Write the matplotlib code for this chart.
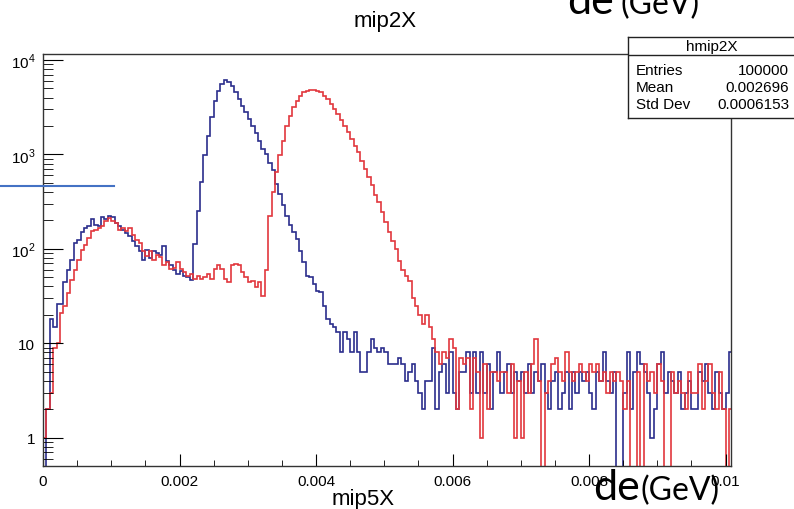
import numpy as np
import matplotlib
matplotlib.use("Agg")
import matplotlib.pyplot as plt
from matplotlib.lines import Line2D

plt.rcParams['font.family'] = ['Liberation Sans', 'DejaVu Sans']
plt.rcParams['mathtext.fontset'] = 'custom'
plt.rcParams['mathtext.rm'] = 'Liberation Sans'

# histogram contents, bin width 0.00005 starting at 0
bin_width = 0.00005

blue = ([0, 2, 18, 15, 26, 26, 44, 60, 77, 116, 125, 150, 165, 175, 205, 180, 175, 220,
         205, 225, 215, 190, 175, 160, 148, 136, 120, 106, 95, 77, 98, 80, 95, 90, 85]
        + [108, 75, 68, 60, 54, 58, 52, 50, 47, 113]
        + [253, 510, 980, 1580, 2500, 3700, 4700, 5550, 6100, 5800, 5300, 4600, 3900,
           3300, 2800, 2400, 2000, 1700, 1400, 1150, 1000, 820]
        + [690, 490, 380, 290, 225, 177, 150, 128, 96, 72, 52, 50, 42, 36, 35, 25]
        + [18, 16, 15, 13, 8, 13, 11, 8, 13, 8, 5, 5, 8, 11, 9, 8, 9, 8, 6, 6, 6, 7]
        + [6, 4, 5, 6, 4, 3, 2, 4, 4, 9, 2, 5, 6, 3, 8, 3, 2, 5, 5, 8,
           3, 8, 3, 8, 3, 6, 2, 5, 8, 3, 5, 6, 3, 5, 4, 5, 3, 6, 3, 5,
           4, 6, 3, 2, 4, 5, 2, 3, 5, 2, 5, 3, 5, 4, 5, 3, 2, 5, 4, 8,
           4, 3, 5, 0, 0, 3, 8, 2, 5, 8, 6, 5, 3, 1, 2, 6, 8, 3, 5, 4,
           3, 5, 2, 3, 4, 2, 2, 5, 4, 6, 3, 2, 5, 3, 2, 3, 8])

red = ([1, 2, 3, 9, 10, 21, 25, 34, 47, 60, 77, 98, 110, 130, 153, 160, 167, 174, 195,
        212, 195, 188, 160, 167, 153, 167, 141, 125, 115, 95, 83, 95, 77, 85, 81]
       + [67, 72, 61, 63, 72, 61, 57, 52, 54, 48, 52, 48, 50, 54, 48, 61, 67, 61, 48, 44,
          67, 69, 67, 57, 50, 44, 46, 39, 44, 32, 59]
       + [225, 400, 650, 980, 1400, 2000, 2560, 3170, 3700, 4200, 4550, 4720, 4850, 4850,
          4720, 4550, 4200, 3900, 3400, 3000, 2680, 2300, 2000, 1720, 1460, 1240, 1050,
          860, 700, 570, 470, 370, 310, 245, 192, 150, 122, 100, 75]
       + [59, 52, 46, 30, 25, 20, 16, 20, 15, 11, 8, 6, 8, 7, 11, 9]
       + [2, 7, 6, 7, 2, 7, 5, 1, 6, 2, 5, 5, 4, 5, 5, 3, 6, 1, 4, 1,
          5, 3, 6, 11, 4, 0, 3, 4, 6, 7, 5, 4, 8, 5, 4, 5, 6, 5, 4, 6,
          5, 6, 4, 5, 3, 5, 4, 5, 4, 2, 4, 0, 0, 5, 0, 6, 4, 5, 3, 6,
          4, 0, 0, 5, 3, 4, 3, 2, 5, 3, 3, 6, 2, 4, 6, 3, 2, 5, 2, 0, 2])

x_ticks = [0, 0.002, 0.004, 0.006, 0.008, 0.01]
x_labels = ['0', '0.002', '0.004', '0.006', '0.008', '0.01']
y_ticks = [1, 10, 100, 1000, 10000]
y_labels = ['1', '10', r'$10^{2}$', r'$10^{3}$', r'$10^{4}$']

stats_name = 'hmip2X'
stats_rows = [('Entries', '100000'), ('Mean', '0.002696'), ('Std Dev', '0.0006153')]

W, H = 794, 510
fig = plt.figure(figsize=(W / 100, H / 100), dpi=100)
ax = fig.add_axes([43 / W, 1 - 467 / H, (731 - 43) / W, (467 - 55) / H])

floor = 1e-2  # empty bins drop to the bottom, like ROOT
for vals, col in [(blue, '#2b2e8c'), (red, '#e2373d')]:
    v = np.array(vals, dtype=float)
    v[v <= 0] = floor
    edges = np.arange(len(v) + 1) * bin_width
    ax.stairs(v, edges, baseline=floor, color=col, lw=1.2)

ax.set_yscale('log')
ax.set_xlim(0, 0.01008)
ax.set_ylim(0.5, 11600)

ax.set_xticks(x_ticks)
ax.set_xticklabels(x_labels)
ax.set_xticks(np.arange(0, 0.0101, 0.0005), minor=True)
ax.set_yticks(y_ticks)
ax.set_yticklabels(y_labels)
ax.tick_params(axis='both', which='both', direction='in', labelsize=11,
               top=False, right=False, color='black')
ax.tick_params(axis='y', which='major', length=14.4, pad=5.5)
ax.tick_params(axis='y', which='minor', length=7.2)
ax.tick_params(axis='x', which='major', length=8.6, pad=5.5)
ax.tick_params(axis='x', which='minor', length=4.3)
ax.yaxis.set_minor_formatter(matplotlib.ticker.NullFormatter())
for s in ax.spines.values():
    s.set_linewidth(1)
    s.set_color('#333333')

fig.text(385 / W, 1 - 27 / H, 'mip2X', fontsize=16, ha='center', va='baseline')
fig.text(395 / W, 1 - 505 / H, 'mip5X', fontsize=16, ha='right', va='baseline')

# stats box
sax = fig.add_axes([628 / W, 1 - 119 / H, (800 - 628) / W, (119 - 38) / H])
sax.set_xlim(628, 800)
sax.set_ylim(119, 38)
sax.set_xticks([])
sax.set_yticks([])
sax.set_facecolor('white')
for s in sax.spines.values():
    s.set_linewidth(1)
    s.set_color('#222222')
sax.plot([628, 800], [56, 56], color='#222222', lw=1)
sax.text(712, 47, stats_name, fontsize=11, ha='center', va='center')
for i, (k, val) in enumerate(stats_rows):
    yy = 71 + i * 17
    sax.text(636, yy, k, fontsize=11, ha='left', va='center')
    sax.text(789, yy, val, fontsize=11, ha='right', va='center')

# annotations on top of the picture
fig.add_artist(Line2D([0, 114 / W], [1 - 187 / H] * 2, color='#4472c4', lw=1.5))
fig.text(567 / W, 1 - 14 / H, 'de', fontsize=31, family='Lato', va='baseline')
fig.text(620 / W, 1 - 14 / H, '(GeV)', fontsize=23, family='Lato', va='baseline')
fig.text(593 / W, 1 - 500 / H, 'de', fontsize=31, family='Lato', va='baseline')
fig.text(640 / W, 1 - 500 / H, '(GeV)', fontsize=23, family='Lato', va='baseline')

fig.savefig('out.png', dpi=100)
